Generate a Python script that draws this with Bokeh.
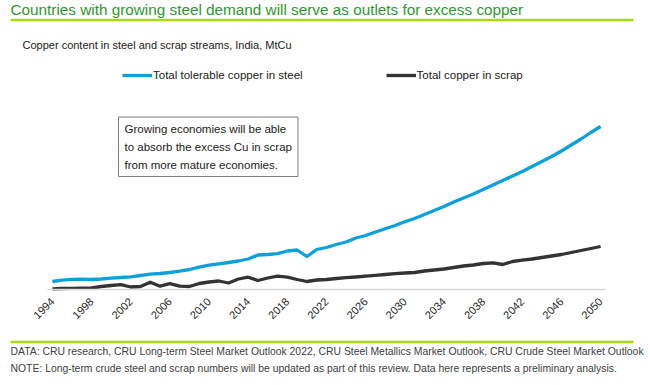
import math
from bokeh.plotting import figure
from bokeh.models import (Range1d, FixedTicker, Label, BoxAnnotation, Legend, LegendItem)
from bokeh.embed import file_html
from bokeh.resources import INLINE

# ---------------- data (arbitrary height units) ----------------
years = list(range(1994, 2051))
tolerable_copper_in_steel = [
    8, 9.3, 10.2, 10.3, 10, 10.5, 11.3, 12, 12.6, 14,           # 1994-2003
    15.3, 16, 17, 18.3, 20, 22.3, 24.3, 25.7, 27, 28.5,          # 2004-2013
    30.5, 34.5, 35, 35.8, 38.5, 39.5, 33, 40, 42, 45,            # 2014-2023
    47.5, 51.5, 54, 57.5, 60.8, 64, 67.8, 71, 75, 79,            # 2024-2033
    83, 87.5, 91.5, 95.5, 100, 104.5, 109, 113.5, 118, 123,      # 2034-2043
    128, 133, 138.5, 144.5, 150.5, 157, 163,                     # 2044-2050
]
copper_in_scrap = [
    0.7, 1, 1.2, 1.3, 1.5, 3, 4, 4.8, 2.5, 3,                    # 1994-2003
    7.3, 3.3, 5.8, 3.3, 3, 6, 7.5, 8.5, 6.5, 10.5,               # 2004-2013
    12.3, 9, 11.5, 13.3, 12.3, 10, 8, 9.5, 10, 11,               # 2014-2023
    11.8, 12.5, 13.3, 14.2, 15, 15.8, 16.5, 17, 18.5, 19.5,      # 2024-2033
    20.5, 22, 23.5, 24.5, 26, 26.7, 25, 28, 29.3, 30.5,          # 2034-2043
    32, 33.5, 35, 37, 39, 41, 43,                                # 2044-2050
]
tick_years = list(range(1994, 2051, 4))
series_names = ["Total tolerable copper in steel", "Total copper in scrap"]

title_text = "Countries with growing steel demand will serve as outlets for excess copper"
subtitle_text = "Copper content in steel and scrap streams, India, MtCu"
box_text = ("Growing economies will be able\n"
            "to absorb the excess Cu in scrap\n"
            "from more mature economies.")
footer1 = ("DATA: CRU research, CRU Long-term Steel Market Outlook 2022, CRU Steel Metallics "
           "Market Outlook, CRU Crude Steel Market Outlook")
footer2 = ("NOTE: Long-term crude steel and scrap numbers will be updated as part of this review. "
           "Data here represents a preliminary analysis.")

FONT = "Liberation Sans"
BLUE = "#0ea0dc"
DARK = "#333333"
GREEN = "#2f982f"
LIME = "#a8dc10"

# ---------------- layout (pixels on the canvas) ----------------
W, H = 650, 385
PLOT_L, PLOT_R, AXIS_Y = 47, 605, 289          # plot area edges / axis position
x_lo, x_hi = years[0] - 0.5, years[-1] + 0.5   # category bounds
kx = (PLOT_R - PLOT_L) / (x_hi - x_lo)         # px per year
ky = 1.0                                       # px per unit

# the frame covers the whole canvas so nothing is clipped
p = figure(width=W, height=H, output_backend="svg", toolbar_location=None,
           x_range=Range1d(x_lo - PLOT_L / kx, x_lo + (W - PLOT_L) / kx),
           y_range=Range1d(-(H - AXIS_Y) / ky, AXIS_Y / ky),
           min_border=0, min_border_left=0, min_border_right=0,
           min_border_top=0, min_border_bottom=0,
           background_fill_color="white", border_fill_color="white")
p.outline_line_color = None
p.grid.visible = False
p.yaxis.visible = False

ax = p.xaxis[0]
ax.fixed_location = 0
ax.bounds = (x_lo, x_hi)
ax.ticker = FixedTicker(ticks=tick_years)
ax.major_label_orientation = math.pi / 4
ax.axis_line_color = "#d9d9d9"
ax.axis_line_width = 1.5
ax.major_tick_line_color = None
ax.minor_tick_line_color = None
ax.major_tick_out = 0
ax.major_tick_in = 0
ax.major_label_standoff = 10
ax.major_label_text_font = FONT
ax.major_label_text_font_size = "11px"
ax.major_label_text_color = "#262626"

r1 = p.line(years, tolerable_copper_in_steel, line_width=3.3, line_color=BLUE, line_join="round")
r2 = p.line(years, copper_in_scrap, line_width=3.3, line_color=DARK, line_join="round")


def sx(px):
    return px


def sy(py):
    return H - py


legend = Legend(items=[LegendItem(label=series_names[0], renderers=[r1]),
                       LegendItem(label=series_names[1], renderers=[r2])],
                orientation="horizontal", location=(sx(122), sy(82)),
                glyph_width=30, glyph_height=14, label_height=14, label_standoff=1,
                spacing=83, padding=0, margin=0,
                border_line_color=None, background_fill_alpha=0,
                label_text_font=FONT, label_text_font_size="11.5px",
                label_text_color="#1a1a1a")
p.add_layout(legend, "center")


def label(text, x, y, size, color, **kw):
    p.add_layout(Label(x=sx(x), y=sy(y), x_units="screen", y_units="screen", text=text,
                       text_font=FONT, text_font_size=size, text_color=color, **kw))


label(title_text, 10, 9, "15.3px", GREEN, text_baseline="alphabetic")
label(subtitle_text, 22, 44, "11px", "#1a1a1a", text_baseline="alphabetic")
label(footer1, 10, 350.5, "10.4px", "#404040", text_baseline="alphabetic")
label(footer2, 10, 367.5, "10.4px", "#404040", text_baseline="alphabetic")

p.add_layout(Label(x=sx(118), y=sy(116.5), x_units="screen", y_units="screen", text=box_text,
                   text_font=FONT, text_font_size="11.5px", text_color="#1a1a1a",
                   text_align="left", text_baseline="top", text_line_height=1.48,
                   border_line_color="#7f7f7f", border_line_width=1, padding=6,
                   background_fill_color="white"))

for yy in (19.5, 341.5):
    p.add_layout(BoxAnnotation(left=sx(10), right=sx(633), top=sy(yy - 1.2), bottom=sy(yy + 1.2),
                               left_units="screen", right_units="screen",
                               top_units="screen", bottom_units="screen",
                               fill_color=LIME, fill_alpha=1, line_color=None))

open("out.html", "w").write(file_html(p, INLINE))
